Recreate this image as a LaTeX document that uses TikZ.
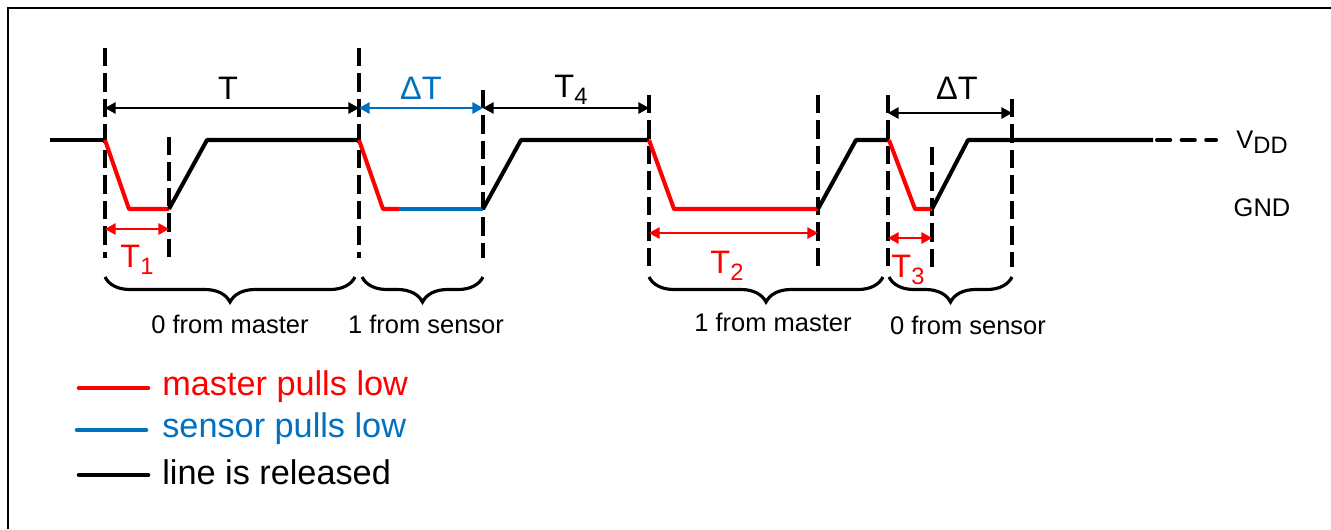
\documentclass[tikz,border=0pt]{standalone}
\usepackage{fontspec}
\setmainfont{Liberation Sans}
\usetikzlibrary{arrows.meta,decorations.pathreplacing}
\definecolor{pullred}{RGB}{255,0,0}
\definecolor{pullblue}{RGB}{0,112,192}
\newcommand{\lowidx}[1]{\raisebox{-0.4ex}{\fontsize{13.5}{13.5}\selectfont #1}}

\begin{document}
\begin{tikzpicture}[x=0.02cm, y=-0.02cm]
    \tikzstyle{wire}=[line width=2.3pt, line join=round]
    \tikzstyle{guide}=[line width=1.9pt, dash pattern=on 10.5pt off 4pt]
    \tikzstyle{span}=[line width=0.8pt, {Triangle[length=6pt,width=6.5pt]}-{Triangle[length=6pt,width=6.5pt]}]
    \tikzstyle{bracket}=[line width=1.8pt, decorate, decoration={brace, mirror, amplitude=0.5cm}]
    \tikzstyle{lbl}=[font=\fontsize{18.5}{20}\selectfont, inner sep=0pt]
    \tikzstyle{note}=[font=\fontsize{14.5}{16}\selectfont, inner sep=0pt]
    \tikzstyle{key}=[font=\fontsize{19.5}{21}\selectfont, inner sep=0pt, anchor=west]

    \useasboundingbox (0,0) rectangle (1331,529);
    \draw[line width=0.7pt] (8,529) -- (8,8) -- (1331,8);

    % guide lines
    \draw[guide] (105,48) -- (105,258);
    \draw[guide] (169,137) -- (169,258);
    \draw[guide] (359,48) -- (359,258);
    \draw[guide] (483,90) -- (483,258);
    \draw[guide] (649,95) -- (649,267);
    \draw[guide] (818,95) -- (818,267);
    \draw[guide] (888,95) -- (888,267);
    \draw[guide] (932,147) -- (932,267);
    \draw[guide] (1012,99) -- (1012,267);

    % the bus line
    \draw[wire] (50,140) -- (105,140);
    \draw[wire, pullred] (105,140) -- (129,209) -- (169,209);
    \draw[wire] (169,209) -- (207,140) -- (359,140);
    \draw[wire, pullred] (359,140) -- (383,209) -- (399,209);
    \draw[wire, pullblue] (399,209) -- (483,209);
    \draw[wire] (483,209) -- (521,140) -- (649,140);
    \draw[wire, pullred] (649,140) -- (674,209) -- (818,209);
    \draw[wire] (818,209) -- (856,140) -- (889,140);
    \draw[wire, pullred] (889,140) -- (915,209) -- (932,209);
    \draw[wire] (932,209) -- (968,140) -- (1153,140);
    \draw[wire, line cap=round, dash pattern=on 7.5pt off 6.5pt] (1157,140) -- (1216,140);

    \node[note] (vdd) at (1262,142) {V\lowidx{DD}};
    \node[note] (gnd) at (1262,208) {GND};

    % time spans
    \coordinate (s0) at (105,108);
    \coordinate (s1) at (359,108);
    \coordinate (s2) at (483,108);
    \coordinate (s3) at (649,108);
    \coordinate (s4) at (888,113);
    \coordinate (s5) at (1012,113);
    \draw[span] (s0) -- (s1);
    \draw[span, pullblue] (s1) -- (s2);
    \draw[span] (s2) -- (s3);
    \draw[span] (s4) -- (s5);
    \node[lbl] (tbit) at (228,88) {T};
    \node[lbl, pullblue] (dt1) at (421,88) {ΔT};
    \node[lbl] (t4) at (571,90) {T\lowidx{4}};
    \node[lbl] (dt2) at (957,88) {ΔT};

    \coordinate (p1a) at (105,229);
    \coordinate (p1b) at (169,229);
    \coordinate (p2a) at (649,233);
    \coordinate (p2b) at (818,233);
    \coordinate (p3a) at (888,238);
    \coordinate (p3b) at (932,238);
    \draw[span, pullred] (p1a) -- (p1b);
    \draw[span, pullred] (p2a) -- (p2b);
    \draw[span, pullred] (p3a) -- (p3b);
    \node[lbl, pullred] (t1) at (137,260) {T\lowidx{1}};
    \node[lbl, pullred] (t2) at (727,266) {T\lowidx{2}};
    \node[lbl, pullred] (t3) at (908,270) {T\lowidx{3}};

    % bits
    \draw[bracket] (105,277) -- (355,277);
    \draw[bracket] (362,277) -- (483,277);
    \draw[bracket] (649,277) -- (883,277);
    \draw[bracket] (889,277) -- (1012,277);
    \node[note] (b1) at (230,324) {0 from master};
    \node[note] (b2) at (426,324) {1 from sensor};
    \node[note] (b3) at (773,322) {1 from master};
    \node[note] (b4) at (968,325) {0 from sensor};

    % legend
    \draw[wire, line width=2.6pt, line cap=round, pullred] (79,388) coordinate (ka) -- (148,388) coordinate (kb);
    \draw[wire, line width=2.6pt, line cap=round, pullblue] (77,430) coordinate (kc) -- (146,430) coordinate (kd);
    \draw[wire, line width=2.6pt, line cap=round] (79,475) coordinate (ke) -- (148,475) coordinate (kf);
    \node[key, pullred] (k1) at (162,387) {master pulls low};
    \node[key, pullblue] (k2) at (162,429) {sensor pulls low};
    \node[key] (k3) at (162,472) {line is released};
\end{tikzpicture}
\end{document}
